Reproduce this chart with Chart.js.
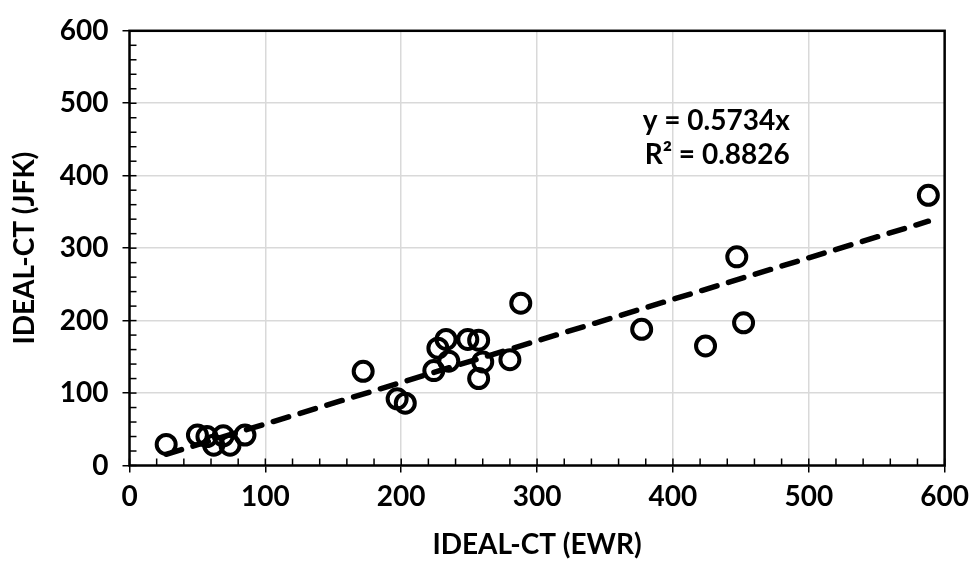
<!DOCTYPE html>
<html>
<head>
<meta charset="utf-8">
<script src="https://cdn.jsdelivr.net/npm/chart.js@4.4.1/dist/chart.umd.min.js"></script>
<style>
  html, body { margin: 0; padding: 0; background: #fff; }
  #wrap { width: 977px; height: 571px; }
</style>
</head>
<body>
<div id="wrap"><canvas id="ctChart"></canvas></div>
<script>
// IDEAL-CT results, EWR vs JFK
const ewr = [27, 50, 57, 62, 69, 74, 85, 172, 197, 203, 224, 227, 233, 235, 249, 257, 260, 257, 280, 288, 377, 424, 447, 452, 588];
const jfk = [29, 42, 40, 28, 41, 28, 42, 130, 92, 86, 131, 162, 174, 144, 174, 173, 143, 120, 146, 224, 188, 165, 288, 197, 373];
const slope = 0.5734;
const rSquared = 0.8826;
const axisMin = 0;
const axisMax = 600;
const majorStep = 100;
const minorStep = 20;

const FONT = 'Lato, "Open Sans", sans-serif';
const FONT_SIZE = 28;

const points = ewr.map((v, i) => ({ x: v, y: jfk[i] }));
const xLo = Math.min(...ewr);
const xHi = Math.max(...ewr);
const trend = [{ x: xLo, y: slope * xLo }, { x: xHi, y: slope * xHi }];

// minor ticks, inner half of major ticks, plot frame and the fit label
const frameAndTicks = {
  id: 'frameAndTicks',
  afterDraw(chart) {
    const { ctx, chartArea: a, scales: { x, y } } = chart;
    ctx.save();
    ctx.strokeStyle = '#000';
    ctx.lineWidth = 1.5;
    for (let v = axisMin; v <= axisMax; v += minorStep) {
      const len = 7;
      const px = x.getPixelForValue(v);
      ctx.beginPath();
      ctx.moveTo(px, a.bottom);
      ctx.lineTo(px, a.bottom - len);
      ctx.stroke();
      const py = y.getPixelForValue(v);
      ctx.beginPath();
      ctx.moveTo(a.left, py);
      ctx.lineTo(a.left + len, py);
      ctx.stroke();
    }
    ctx.lineWidth = 2.5;
    ctx.strokeRect(a.left, a.top, a.right - a.left, a.bottom - a.top);

    ctx.fillStyle = '#000';
    ctx.font = 'bold ' + FONT_SIZE + 'px ' + FONT;
    ctx.textAlign = 'right';
    ctx.textBaseline = 'middle';
    const tx = x.getPixelForValue(486);
    ctx.fillText('y = ' + slope + 'x', tx, y.getPixelForValue(476));
    ctx.fillText('R\u00b2 = ' + rSquared, tx, y.getPixelForValue(429));
    ctx.restore();
  }
};

const tickFont = { family: FONT, size: FONT_SIZE, weight: 'bold' };
const titleFont = { family: FONT, size: FONT_SIZE, weight: 'bold', lineHeight: 1 };

new Chart(document.getElementById('ctChart'), {
  type: 'scatter',
  data: {
    datasets: [
      {
        label: 'Trend',
        type: 'line',
        data: trend,
        borderColor: '#000',
        borderWidth: 5.5,
        borderDash: [16, 12],
        borderCapStyle: 'round',
        pointRadius: 0,
        fill: false,
        order: 0
      },
      {
        label: 'IDEAL-CT',
        data: points,
        pointStyle: 'circle',
        pointRadius: 9.5,
        pointBorderWidth: 4,
        borderColor: '#000',
        backgroundColor: 'rgba(0,0,0,0)',
        order: 1
      }
    ]
  },
  options: {
    responsive: true,
    maintainAspectRatio: false,
    animation: false,
    layout: { padding: { top: 20, right: 28, left: 0, bottom: 0 } },
    plugins: {
      legend: { display: false },
      tooltip: { enabled: false }
    },
    scales: {
      x: {
        type: 'linear',
        min: axisMin,
        max: axisMax,
        afterFit: (s) => { s.height = 105.5; },
        border: { display: false },
        grid: { color: '#d9d9d9', lineWidth: 1.5, tickColor: '#000', tickLength: 7, tickWidth: 1.5 },
        ticks: { stepSize: majorStep, color: '#000', padding: 8, font: tickFont },
        title: {
          display: true,
          text: 'IDEAL-CT (EWR)',
          color: '#000',
          font: titleFont,
          padding: { top: 0, bottom: 12 }
        }
      },
      y: {
        type: 'linear',
        min: axisMin,
        max: axisMax,
        afterFit: (s) => { s.width = 129.5; },
        border: { display: false },
        grid: { color: '#d9d9d9', lineWidth: 1.5, tickColor: '#000', tickLength: 7, tickWidth: 1.5 },
        ticks: { stepSize: majorStep, color: '#000', padding: 14, font: tickFont },
        title: {
          display: true,
          text: 'IDEAL-CT (JFK)',
          color: '#000',
          font: titleFont,
          padding: { top: 11, bottom: 0 }
        }
      }
    }
  },
  plugins: [frameAndTicks]
});
</script>
</body>
</html>
